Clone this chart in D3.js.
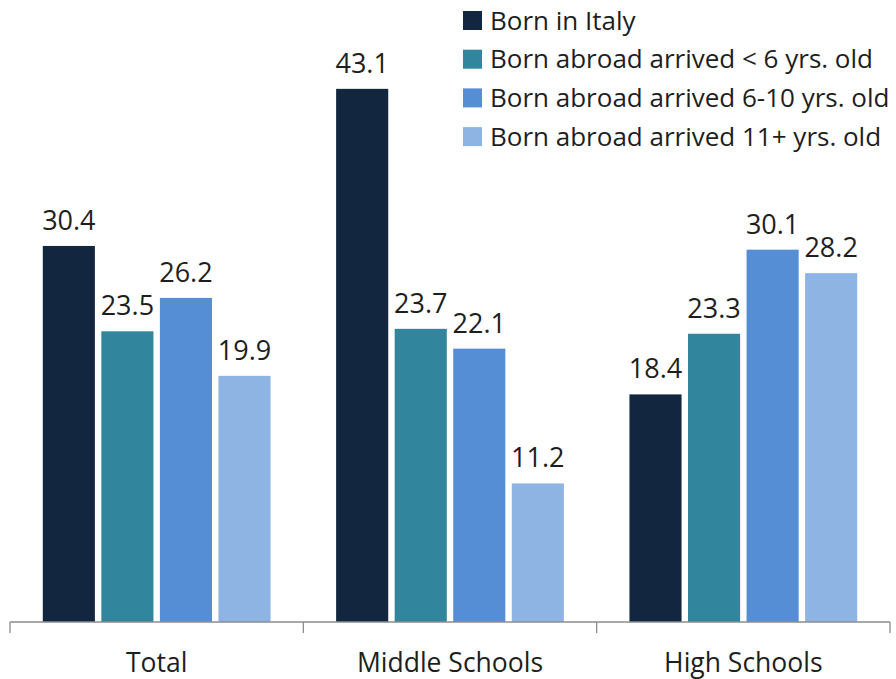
<!DOCTYPE html>
<html lang="en">
<head>
  <meta charset="UTF-8">
  <title>Born in Italy vs born abroad</title>
  <style>
    body {
      margin: 0;
      background: #fff;
      font-family: "Open Sans", sans-serif;
    }
    svg {
      display: block;
    }
    .value {
      font-size: 27px;
      fill: #1e1e1e;
      text-anchor: middle;
    }
    .legend text {
      font-size: 26px;
      fill: #1e1e1e;
    }
    .axis--x path,
    .axis--x line {
      stroke: #8c8c8c;
      stroke-width: 1.3;
    }
    .axis--x text {
      font-family: "Open Sans", sans-serif;
      font-size: 26.5px;
      fill: #1e1e1e;
    }
  </style>
  <script src="https://d3js.org/d3.v7.min.js"></script>
</head>
<body>
  <div id="chart"></div>
  <script>
/* global d3 */

var categories = ["Total", "Middle Schools", "High Schools"];
var seriesNames = [
  "Born in Italy",
  "Born abroad arrived < 6 yrs. old",
  "Born abroad arrived 6-10 yrs. old",
  "Born abroad arrived 11+ yrs. old"
];
var bornItaly   = [30.4, 43.1, 18.4];
var arrivedLt6  = [23.5, 23.7, 23.3];
var arrived6to10 = [26.2, 22.1, 30.1];
var arrived11   = [19.9, 11.2, 28.2];
var colors = ["#12263f", "#31859c", "#558ed5", "#8eb4e3"];

var seriesValues = [bornItaly, arrivedLt6, arrived6to10, arrived11];

var width = 896,
  height = 679,
  baseline = 622;

var svg = d3.select("#chart")
  .append("svg")
  .attr("width", width)
  .attr("height", height);

var x0 = d3.scaleBand()
  .domain(categories)
  .range([10, 890]);

var x1 = d3.scaleBand()
  .domain(seriesNames)
  .range([0, x0.bandwidth()])
  .paddingInner(0.11)
  .paddingOuter(0.56);

var y = d3.scaleLinear()
  .domain([0, 50])
  .range([baseline, baseline - 50 * 12.37]);

var rows = categories.map(function (c, i) {
  return {
    cat: c,
    values: seriesNames.map(function (s, j) {
      return {series: s, idx: j, value: seriesValues[j][i]};
    })
  };
});

var groups = svg.selectAll(".group")
  .data(rows)
  .enter().append("g")
  .attr("class", "group")
  .attr("transform", function (d) { return "translate(" + x0(d.cat) + ",0)"; });

groups.selectAll("rect")
  .data(function (d) { return d.values; })
  .enter().append("rect")
  .attr("x", function (d) { return x1(d.series); })
  .attr("y", function (d) { return y(d.value); })
  .attr("width", x1.bandwidth())
  .attr("height", function (d) { return baseline - y(d.value); })
  .attr("fill", function (d) { return colors[d.idx]; });

groups.selectAll(".value")
  .data(function (d) { return d.values; })
  .enter().append("text")
  .attr("class", "value")
  .attr("x", function (d) { return x1(d.series) + x1.bandwidth() / 2; })
  .attr("y", function (d) { return y(d.value) - 16; })
  .text(function (d) { return d.value.toFixed(1); });

// category axis, ticks between groups
var axis = svg.append("g")
  .attr("class", "axis--x")
  .attr("transform", "translate(0," + baseline + ")");

axis.append("line")
  .attr("x1", x0.range()[0])
  .attr("x2", x0.range()[1]);

var bounds = categories.map(function (c) { return x0(c); }).concat([x0.range()[1]]);
axis.selectAll(".sep")
  .data(bounds)
  .enter().append("line")
  .attr("class", "sep")
  .attr("x1", function (d) { return d; })
  .attr("x2", function (d) { return d; })
  .attr("y1", 0)
  .attr("y2", 11);

axis.selectAll(".cat")
  .data(categories)
  .enter().append("text")
  .attr("class", "cat")
  .attr("x", function (d) { return x0(d) + x0.bandwidth() / 2; })
  .attr("y", 50)
  .attr("text-anchor", "middle")
  .text(function (d) { return d; });

// legend
var legend = svg.append("g")
  .attr("class", "legend")
  .attr("transform", "translate(463,11)");

var item = legend.selectAll(".item")
  .data(seriesNames)
  .enter().append("g")
  .attr("class", "item")
  .attr("transform", function (d, i) { return "translate(0," + (i * 38.7) + ")"; });

item.append("rect")
  .attr("width", 19)
  .attr("height", 19)
  .attr("fill", function (d, i) { return colors[i]; });

item.append("text")
  .attr("x", 27)
  .attr("y", 18.5)
  .text(function (d) { return d; });
  </script>
</body>
</html>
